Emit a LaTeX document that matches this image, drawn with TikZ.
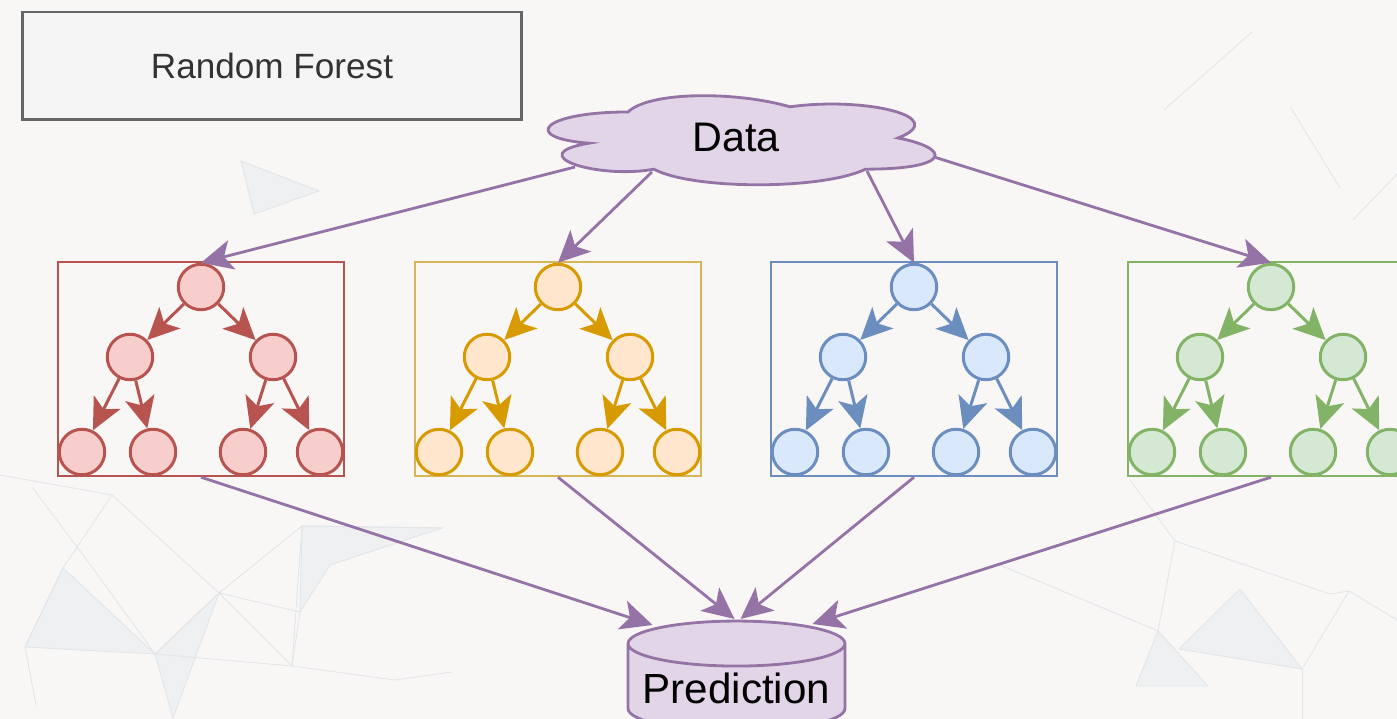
\documentclass[tikz,border=0pt]{standalone}
\usepackage{fontspec}
\setmainfont{Liberation Sans}
\usetikzlibrary{arrows.meta, calc, positioning, shapes.geometric}
\definecolor{bgpaper}{RGB}{249,247,246}
\definecolor{titleline}{RGB}{102,102,102}
\definecolor{titlefill}{RGB}{245,245,245}
\definecolor{titletext}{RGB}{51,51,51}
\definecolor{plumline}{HTML}{9673A6}
\definecolor{plumfill}{HTML}{E1D5E7}
\definecolor{redline}{HTML}{B85450}
\definecolor{redfill}{HTML}{F8CECC}
\definecolor{goldline}{HTML}{D79B00}
\definecolor{goldbox}{HTML}{D6B656}
\definecolor{goldfill}{HTML}{FFE6CC}
\definecolor{blueline}{HTML}{6C8EBF}
\definecolor{bluefill}{HTML}{DAE8FC}
\definecolor{greenline}{HTML}{82B366}
\definecolor{greenfill}{HTML}{D5E8D4}
\definecolor{meshline}{RGB}{226,229,232}
\definecolor{meshfill}{RGB}{232,235,238}
\tikzset{
  title box/.style={
    draw=titleline, line width=1.7pt, fill=titlefill, text=titletext,
    minimum width=10cm, minimum height=2.16cm, font=\fontsize{20}{24}\selectfont
  },
  cloud line/.style={draw=plumline, fill=plumfill, line width=1.6pt},
  data label/.style={inner sep=0pt, font=\fontsize{23.5}{28}\selectfont},
  pred store/.style={
    cylinder, shape border rotate=90, aspect=0.24, draw=plumline, fill=plumfill,
    line width=1.6pt, minimum width=4.34cm, minimum height=2.2cm, inner sep=0pt,
    font=\fontsize{24}{28}\selectfont
  },
  tree box/.style={draw, line width=1.4pt, minimum width=5.72cm, minimum height=4.28cm, inner sep=0pt},
  leaf/.style={circle, draw, line width=1.7pt, minimum size=0.91cm, inner sep=0pt},
  branch/.style={line width=1.7pt, -{Stealth[length=18pt, width=17pt, inset=4.5pt]}},
  feed/.style={draw=plumline, line width=1.6pt, -{Stealth[length=18pt, width=17pt, inset=4.5pt]}},
  mesh/.style={draw=meshline, line width=0.5pt},
  mesh patch/.style={fill=meshfill, fill opacity=0.55, draw=meshline, line width=0.5pt},
}
\begin{document}
\begin{tikzpicture}[x=0.02cm, y=-0.02cm]
  \useasboundingbox (0,0) rectangle (1397,719);
  \clip (0,0) rectangle (1397,719);
  \fill[bgpaper] (0,0) rectangle (1397,719);

  % faint mesh in the background
  \path[mesh patch] (241,161) -- (319,191) -- (254,214) -- cycle;
  \path[mesh patch] (25,647) -- (155,654) -- (63,568) -- cycle;
  \path[mesh patch] (155,654) -- (219,593) -- (173,718) -- cycle;
  \path[mesh patch] (302,526) -- (442,528) -- (330,565) -- (300,612) -- cycle;
  \path[mesh patch] (1179,649) -- (1240,589) -- (1302,669) -- cycle;
  \path[mesh patch] (1158,631) -- (1208,686) -- (1136,686) -- cycle;
  \draw[mesh] (0,475) -- (112,495) -- (63,568) -- (25,647) -- (36,705);
  \draw[mesh] (32,487) -- (92,567) -- (155,654) -- (219,593) -- (302,526) -- (442,528);
  \draw[mesh] (112,495) -- (219,593) -- (300,612) -- (292,666) -- (155,654);
  \draw[mesh] (219,593) -- (292,666) -- (395,680) -- (452,672);
  \draw[mesh] (302,526) -- (292,666);
  \draw[mesh] (1000,565) -- (1158,631) -- (1175,541) -- (1330,594) -- (1349,591) -- (1397,620);
  \draw[mesh] (1302,669) -- (1349,591);
  \draw[mesh] (1302,669) -- (1302,719);
  \draw[mesh] (1175,541) -- (1130,480);
  \draw[mesh] (1164,110) -- (1252,32);
  \draw[mesh] (1291,108) -- (1340,188);
  \draw[mesh] (1353,220) -- (1397,174);

  \node[title box] (title) at (272,66) {Random Forest};

  % cloud outline, in a unit box 432 x 104 px
  \begin{scope}[shift={(520,86)}, x=8.64cm, y=-2.08cm]
    \path[cloud line] (0.25,0.25)
      .. controls (0.05,0.25) and (0,0.5) .. (0.16,0.55)
      .. controls (0,0.66) and (0.18,0.9) .. (0.31,0.8)
      .. controls (0.4,1) and (0.7,1) .. (0.8,0.8)
      .. controls (1,0.8) and (1,0.6) .. (0.875,0.5)
      .. controls (1,0.3) and (0.8,0.1) .. (0.625,0.2)
      .. controls (0.5,0.05) and (0.3,0.05) .. (0.25,0.25) -- cycle;
  \end{scope}
  \node[data label] (data) at (736,138) {Data};
  \node[pred store] (pred) at (736.5,688) {Prediction};

  % one tree per box
  \foreach \k/\lx/\edgecol/\fillcol/\boxcol in {
      1/58/redline/redfill/redline,
      2/415/goldline/goldfill/goldbox,
      3/771/blueline/bluefill/blueline,
      4/1128/greenline/greenfill/greenline} {
    \node[tree box, draw=\boxcol] (box\k) at (\lx+143,369) {};
    \node[leaf, draw=\edgecol, fill=\fillcol] (root\k) at (\lx+143,287) {};
    \node[leaf, draw=\edgecol, fill=\fillcol] (midl\k) at (\lx+72,357) {};
    \node[leaf, draw=\edgecol, fill=\fillcol] (midr\k) at (\lx+215,357) {};
    \node[leaf, draw=\edgecol, fill=\fillcol] (lowa\k) at (\lx+24,452) {};
    \node[leaf, draw=\edgecol, fill=\fillcol] (lowb\k) at (\lx+95,452) {};
    \node[leaf, draw=\edgecol, fill=\fillcol] (lowc\k) at (\lx+185,452) {};
    \node[leaf, draw=\edgecol, fill=\fillcol] (lowd\k) at (\lx+262,452) {};
    \draw[branch, color=\edgecol] (root\k) -- (midl\k);
    \draw[branch, color=\edgecol] (root\k) -- (midr\k);
    \draw[branch, color=\edgecol] (midl\k) -- (lowa\k);
    \draw[branch, color=\edgecol] (midl\k) -- (lowb\k);
    \draw[branch, color=\edgecol] (midr\k) -- (lowc\k);
    \draw[branch, color=\edgecol] (midr\k) -- (lowd\k);
  }

  % where the purple connectors leave the cloud and meet the store
  \coordinate (d1) at ($(data.center)+(-161,29)$);
  \coordinate (d2) at ($(data.center)+(-84,34)$);
  \coordinate (d3) at ($(data.center)+(131,33)$);
  \coordinate (d4) at ($(data.center)+(198,19)$);
  \coordinate (p1) at ($(pred.center)+(-84,-63)$);
  \coordinate (p2) at ($(pred.center)+(-2,-69)$);
  \coordinate (p3) at ($(pred.center)+(4,-69)$);
  \coordinate (p4) at ($(pred.center)+(76,-64)$);

  \draw[feed] (d1) -- (root1.north);
  \draw[feed] (d2) -- (root2.north);
  \draw[feed] (d3) -- (root3.north);
  \draw[feed] (d4) -- (root4.north);
  \draw[feed] (box1.south) -- (p1);
  \draw[feed] (box2.south) -- (p2);
  \draw[feed] (box3.south) -- (p3);
  \draw[feed] (box4.south) -- (p4);
\end{tikzpicture}
\end{document}
